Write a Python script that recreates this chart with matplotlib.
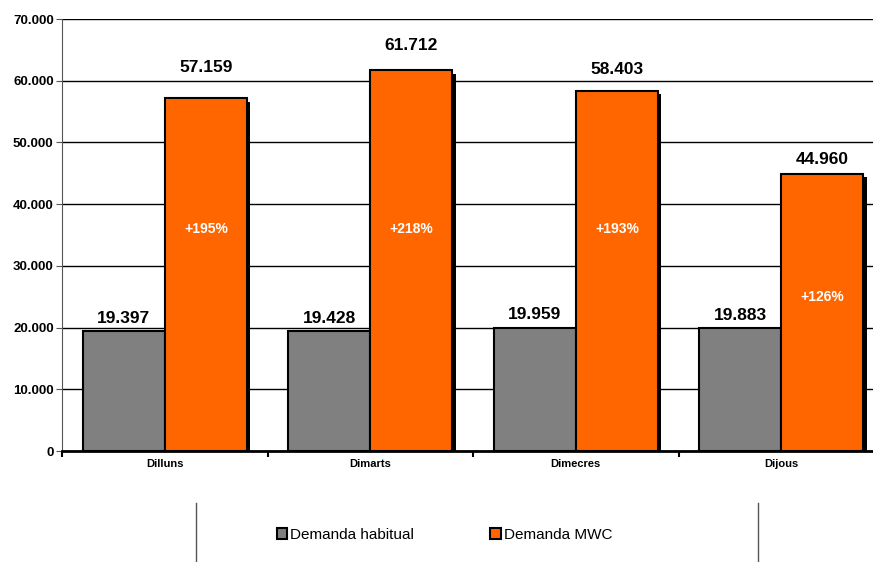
import matplotlib
matplotlib.use("Agg")
import matplotlib.pyplot as plt
import matplotlib.patheffects as pe
from matplotlib.lines import Line2D
from matplotlib.patches import Patch
from matplotlib.ticker import FuncFormatter, MultipleLocator
import numpy as np

plt.rcParams["font.family"] = ["Liberation Sans", "DejaVu Sans"]

# Dades
dies = ["Dilluns", "Dimarts", "Dimecres", "Dijous"]
demanda_habitual = [19397, 19428, 19959, 19883]
demanda_mwc = [57159, 61712, 58403, 44960]
series_labels = ["Demanda habitual", "Demanda MWC"]

GRIS = "#808080"
TARONJA = "#FF6600"
# separació (punts) de les etiquetes MWC, com a l'original
mwc_label_pad = [17, 12, 10, 5]


def fmt_miles(v, _pos=None):
    return f"{int(round(v)):,}".replace(",", ".")


fig = plt.figure(figsize=(8.73, 5.62), dpi=100)
ax = fig.add_axes([62 / 873, 111 / 562, 822 / 873, 432 / 562])

x = np.arange(len(dies))
w = 0.40

shadow_dark = [pe.SimplePatchShadow(offset=(2.5, -2.5), shadow_rgbFace="black", alpha=1.0), pe.Normal()]
shadow_soft = [pe.SimplePatchShadow(offset=(2, -2), shadow_rgbFace="black", alpha=0.5), pe.Normal()]

ax.bar(x - w / 2, demanda_habitual, w, color=GRIS, edgecolor="black", linewidth=1.5,
       zorder=3, path_effects=shadow_soft)
ax.bar(x + w / 2, demanda_mwc, w, color=TARONJA, edgecolor="black", linewidth=1.5,
       zorder=3, path_effects=shadow_dark)

for xi, v in zip(x, demanda_habitual):
    ax.annotate(fmt_miles(v), (xi - w / 2, v), xytext=(0, 4), textcoords="offset points",
                ha="center", va="bottom", fontsize=12.5, fontweight="bold", zorder=5)
for xi, v, pad in zip(x, demanda_mwc, mwc_label_pad):
    ax.annotate(fmt_miles(v), (xi + w / 2, v), xytext=(0, pad), textcoords="offset points",
                ha="center", va="bottom", fontsize=12.5, fontweight="bold", zorder=5)

# increment percentual dins la barra MWC
for xi, h, m in zip(x, demanda_habitual, demanda_mwc):
    pct = (m / h - 1) * 100
    ypos = min(36000, m - 20000)
    ax.text(xi + w / 2, ypos, f"+{pct:.0f}%", ha="center", va="center", color="white",
            fontsize=10, fontweight="bold", zorder=5)

ax.set_ylim(0, 70000)
ax.set_xlim(-0.5, len(dies) - 0.5)
ax.yaxis.set_major_locator(MultipleLocator(10000))
ax.yaxis.set_major_formatter(FuncFormatter(fmt_miles))
ax.grid(axis="y", color="black", linewidth=1.0, zorder=0)
ax.set_axisbelow(True)

ax.set_xticks(x)
ax.set_xticklabels(dies, fontsize=8, fontweight="bold")
ax.tick_params(axis="x", length=0, pad=6)
ax.set_xticks(np.arange(len(dies) + 1) - 0.5, minor=True)
ax.tick_params(axis="x", which="minor", length=4, width=1.5, direction="out")
ax.tick_params(axis="y", labelsize=9.5, length=4, color="#555555", pad=2)
for lab in ax.get_yticklabels():
    lab.set_fontweight("bold")

for s in ["top", "right"]:
    ax.spines[s].set_visible(False)
ax.spines["left"].set_color("#555555")
ax.spines["bottom"].set_linewidth(2)
ax.spines["bottom"].set_color("black")

handles = [Patch(facecolor=GRIS, edgecolor="black", linewidth=1.5),
           Patch(facecolor=TARONJA, edgecolor="black", linewidth=1.5)]
fig.legend(handles, series_labels, loc="center", bbox_to_anchor=(444.5 / 873, 1 - 535 / 562),
           ncol=2, frameon=False, fontsize=11, handlelength=0.7, handleheight=0.7,
           handletextpad=0.2, columnspacing=4.95)

# marc de la llegenda (només els costats verticals són visibles)
for xl in (196 / 873, 758 / 873):
    fig.add_artist(Line2D([xl, xl], [0, 1 - 503 / 562], color="#555555", linewidth=1))

fig.savefig("out.png", dpi=100)
